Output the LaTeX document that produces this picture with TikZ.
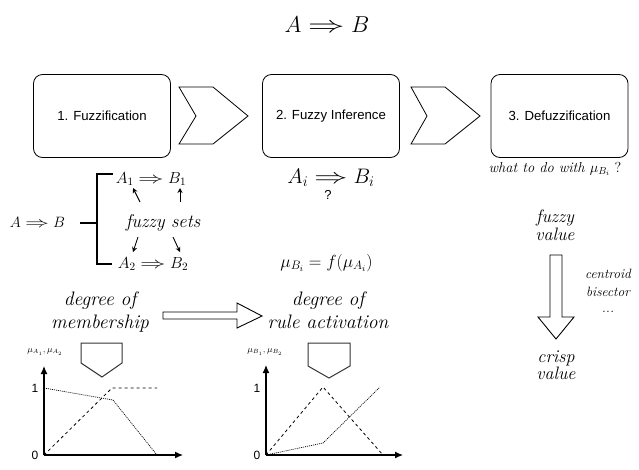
\RequirePackage{fix-cm}
\documentclass[tikz,border=0pt]{standalone}
\usepackage{fontspec}
\usepackage{graphicx}
\setsansfont{Liberation Sans}
\usetikzlibrary{arrows.meta}
\newcommand{\limp}{\mathrel{\scalebox{1.6}[1]{$\Rightarrow$}}}
\begin{document}
\begin{tikzpicture}[x=1pt,y=-1pt,
  stagebox/.style={draw, line width=0.8pt, rounded corners=9pt, minimum width=137pt, minimum height=83pt, font=\sffamily\fontsize{13.2}{15}\selectfont},
  chev/.style={draw, line width=0.8pt},
  txt/.style={inner sep=0pt, anchor=base},
  bigmath/.style={txt, font=\fontsize{23}{26}\selectfont},
  midmath/.style={txt, font=\fontsize{16}{18}\selectfont},
  lbl/.style={txt, font=\fontsize{19.5}{22}\selectfont\itshape},
  vlbl/.style={txt, font=\fontsize{18}{21}\selectfont\itshape},
  smlbl/.style={txt, font=\fontsize{13.5}{15}\selectfont\itshape},
  smallarr/.style={line width=0.9pt, -{Stealth[length=5pt,width=5pt]}},
  axis/.style={line width=1.2pt, -{Latex[length=8pt,width=7pt]}},
  blockarr/.style={draw, line width=0.9pt, fill=white},
  pent/.style={draw, line width=1pt, color=black!80},
  tick/.style={inner sep=0pt, font=\sffamily\fontsize{12}{14}\selectfont},
  axlbl/.style={inner sep=0pt, font=\fontsize{9}{11}\selectfont},
  dashedline/.style={line width=0.8pt, dash pattern=on 3pt off 3pt},
  dottedline/.style={line width=0.7pt, dash pattern=on 1pt off 1pt}
]
\useasboundingbox (0,0) rectangle (639,469);

% title
\node[bigmath] (title) at (327,32) {$A \limp B$};

% stages
\node[stagebox] (s1) at (102,116) {1. Fuzzification};
\node[stagebox] (s2) at (331,116) {2. Fuzzy Inference};
\node[stagebox] (s3) at (559.5,116) {3. Defuzzification};

% chevrons
\draw[chev] (179,87) -- (213,87) -- (248,116) -- (213,144) -- (179,144) -- (196,116) -- cycle;
\draw[chev] (411,87) -- (445,87) -- (480,116) -- (445,144) -- (411,144) -- (427,116) -- cycle;

% left column: rule decomposition
\node[txt, font=\fontsize{15}{18}\selectfont] (ab) at (37.5,227) {$A \limp B$};
\node[midmath] (ab1) at (151,183) {$A_1 \limp B_1$};
\node[midmath] (ab2) at (153,268) {$A_2 \limp B_2$};
\node[txt, font=\fontsize{18.5}{20}\selectfont\itshape] (fs) at (163,227) {fuzzy sets};
\draw[line width=1.3pt] (80,223) -- (97,223);
\draw[line width=1.3pt] (113,174) -- (97,174) -- (97,264) -- (112,264);
\coordinate (a1t) at (140,202); \coordinate (a1h) at (133,188);
\coordinate (b1t) at (180,202); \coordinate (b1h) at (180,188);
\coordinate (a2t) at (138,237); \coordinate (a2h) at (133,252);
\coordinate (b2t) at (173,237); \coordinate (b2h) at (180,252);
\draw[smallarr] (a1t) -- (a1h);
\draw[smallarr] (b1t) -- (b1h);
\draw[smallarr] (a2t) -- (a2h);
\draw[smallarr] (b2t) -- (b2h);

% middle column
\node[txt, font=\fontsize{21}{24}\selectfont] (abi) at (331,183) {$A_i \limp B_i$};
\node[txt, font=\sffamily\fontsize{13}{15}\selectfont] (q) at (328,199) {?};
\node[txt, font=\fontsize{17.5}{21}\selectfont] (mu) at (326.5,267) {$\mu_{B_i} = f(\mu_{A_i})$};

% right column
\node[txt, font=\fontsize{14.5}{16}\selectfont] (what) at (555,172) {\textit{what to do with} $\mu_{B_i}$ ?};
\node[vlbl] (fz1) at (555,222) {fuzzy};
\node[vlbl] (fz2) at (555,240) {value};
\draw[blockarr] (550,255) -- (562,255) -- (562,317) -- (574,317) -- (556,339) -- (538,317) -- (550,317) -- cycle;
\node[smlbl] (m1) at (608,278) {centroid};
\node[smlbl] (m2) at (608,296) {bisector};
\node[smlbl] (m3) at (608,312) {...};
\node[vlbl] (cr1) at (556,362) {crisp};
\node[vlbl] (cr2) at (556,379) {value};

% degree labels
\node[lbl] (dm1) at (100,305) {degree of};
\node[lbl] (dm2) at (100,328) {membership};
\node[lbl] (dr1) at (328,305) {degree of};
\node[lbl] (dr2) at (328,328) {rule activation};
\draw[blockarr] (163,312) -- (237,312) -- (237,303) -- (262,316) -- (237,328) -- (237,319) -- (163,319) -- cycle;

% pentagons
\draw[pent] (81,343) -- (122,343) -- (122,363) -- (102,377) -- (81,363) -- cycle;
\draw[pent] (308,343) -- (350,343) -- (350,366) -- (329,378) -- (308,366) -- cycle;

% chart 1
\coordinate (o1) at (44,455);
\draw[axis] (o1) -- (44,366);
\draw[axis] (o1) -- (183,455);
\node[tick] (z1) at (35,455) {0};
\node[tick] (u1) at (35,388) {1};
\node[axlbl] (al1) at (45,352) {$\mu_{A_1},\mu_{A_2}$};
\draw[dottedline] (44,388) -- (113,400) -- (157,455);
\draw[dashedline] (o1) -- (112,388) -- (157,388);

% chart 2
\coordinate (o2) at (266,455);
\draw[axis] (o2) -- (266,365);
\draw[axis] (o2) -- (403,455);
\node[tick] (z2) at (257,455) {0};
\node[tick] (u2) at (257,388) {1};
\node[axlbl] (al2) at (265,352) {$\mu_{B_1},\mu_{B_2}$};
\draw[dashedline] (o2) -- (323,387) -- (383,455);
\draw[dottedline] (o2) -- (323,443) -- (380,387);
\end{tikzpicture}
\end{document}
